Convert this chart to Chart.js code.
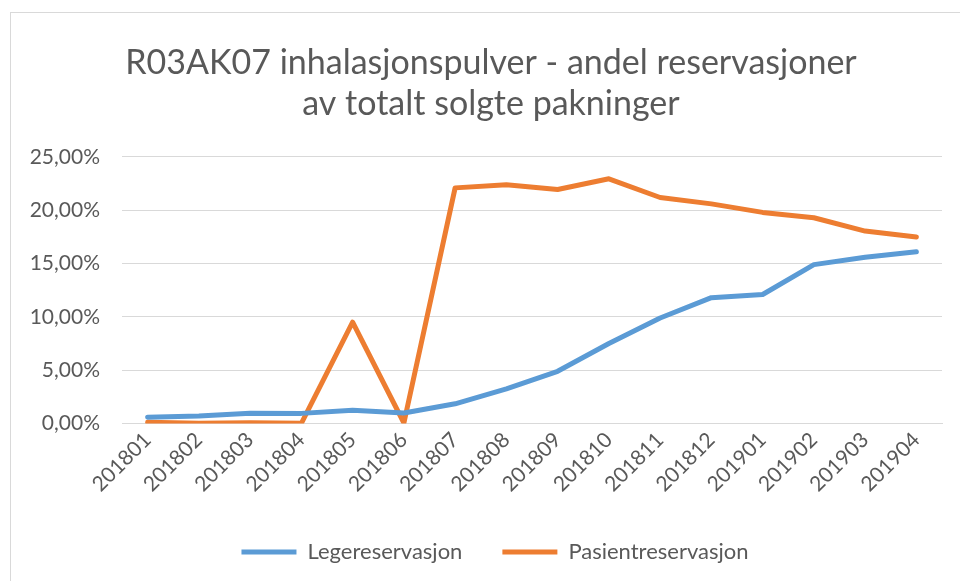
<!DOCTYPE html>
<html>
<head>
<meta charset="utf-8">
<script src="https://cdn.jsdelivr.net/npm/chart.js@4"></script>
<style>
  html, body { margin: 0; padding: 0; background: #fff; overflow: hidden; }
  #ramme { position: absolute; left: 10px; top: 12px; width: 1000px; height: 620px; border: 1px solid #d9d9d9; }
  #boks { position: absolute; left: 0; top: 0; width: 960px; height: 581px; }
</style>
</head>
<body>
<div id="ramme"></div>
<div id="boks"><canvas id="grafikk"></canvas></div>
<script>
const perioder = ['201801','201802','201803','201804','201805','201806','201807','201808',
                  '201809','201810','201811','201812','201901','201902','201903','201904']
const legereservasjon = [0.59, 0.7, 0.97, 0.95, 1.25, 0.98, 1.85, 3.25, 4.9, 7.5, 9.9, 11.8, 12.1, 14.9, 15.6, 16.1]
const pasientreservasjon = [0.12, 0.03, 0.07, 0.02, 9.5, 0.05, 22.1, 22.4, 21.95, 22.95, 21.2, 20.6, 19.8, 19.3, 18.05, 17.5]
const yTicks = [0, 5, 10, 15, 20, 25]

const tekstfarge = '#595959'
const font = "Lato, 'Open Sans', sans-serif"

const ctx = document.getElementById('grafikk')

// tittel og forklaring står midt på hele diagramrammen i Excel, ikke midt på plottet
const flyttTekst = {
    id: 'flyttTekst',
    afterLayout(chart) {
        if (chart.titleBlock) chart.titleBlock.left = 40
        if (chart.legend) {
            chart.legend.left += 13
            chart.legend.right += 13
        }
    }
}

const graf = new Chart(ctx, {
    type: 'line',
    data: {
        labels: perioder,
        datasets: [
            {
                label: 'Legereservasjon',
                data: legereservasjon,
                borderColor: '#5b9bd5',
                backgroundColor: '#5b9bd5',
                borderWidth: 5,
                pointRadius: 0,
                borderCapStyle: 'round',
                borderJoinStyle: 'round',
                tension: 0
            },
            {
                label: 'Pasientreservasjon',
                data: pasientreservasjon,
                borderColor: '#ed7d31',
                backgroundColor: '#ed7d31',
                borderWidth: 5,
                pointRadius: 0,
                borderCapStyle: 'round',
                borderJoinStyle: 'round',
                tension: 0
            }
        ]
    },
    plugins: [flyttTekst],
    options: {
        responsive: true,
        maintainAspectRatio: false,
        animation: false,
        layout: { padding: { left: 22, right: 18, top: 20, bottom: 8 } },
        plugins: {
            title: {
                display: true,
                text: ['R03AK07 inhalasjonspulver - andel reservasjoner', 'av totalt solgte pakninger'],
                color: tekstfarge,
                font: { family: font, size: 34, weight: 'normal', lineHeight: 1.22 },
                padding: { top: 22, bottom: 32 }
            },
            legend: {
                position: 'bottom',
                labels: {
                    color: tekstfarge,
                    font: { family: font, size: 22 },
                    boxWidth: 55,
                    boxHeight: 5,
                    padding: 40,
                    generateLabels: (chart) => {
                        const liste = Chart.defaults.plugins.legend.labels.generateLabels(chart)
                        return liste.map(l => Object.assign(l, { lineWidth: 0, fillStyle: l.strokeStyle }))
                    }
                }
            },
            tooltip: { enabled: false }
        },
        scales: {
            x: {
                offset: true,
                grid: { display: false, drawTicks: false },
                border: { display: true, color: '#d9d9d9', width: 1 },
                ticks: {
                    color: tekstfarge,
                    font: { family: font, size: 21 },
                    maxRotation: 45,
                    minRotation: 45,
                    padding: 4,
                    autoSkip: false
                }
            },
            y: {
                min: 0,
                max: 25,
                afterBuildTicks: (skala) => { skala.ticks = yTicks.map(v => ({ value: v })) },
                afterFit: (skala) => { skala.width = 100 },
                grid: { color: '#d9d9d9', lineWidth: 1, drawTicks: false },
                border: { display: false },
                ticks: {
                    color: tekstfarge,
                    font: { family: font, size: 21 },
                    padding: 22,
                    callback: (v) => v.toFixed(2).replace('.', ',') + '%'
                }
            }
        }
    }
})
</script>
</body>
</html>
